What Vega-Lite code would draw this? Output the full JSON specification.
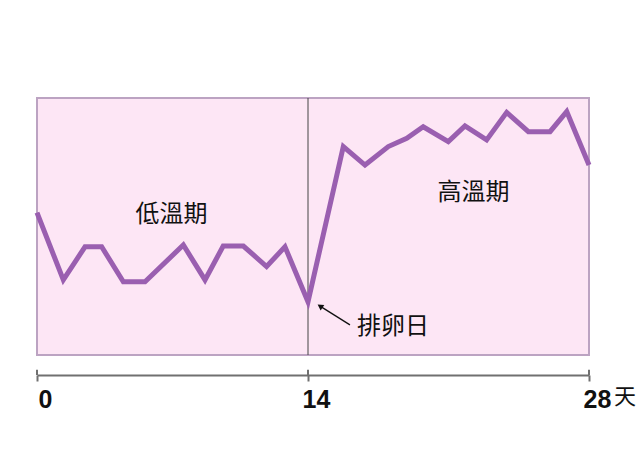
{
  "$schema": "https://vega.github.io/schema/vega-lite/v6.json",
  "width": 552,
  "height": 277,
  "autosize": "none",
  "padding": {"left": 37, "top": 98, "right": 51, "bottom": 87},
  "background": "white",
  "config": {
    "view": {"stroke": null}
  },
  "datasets": {
    "temps": [
      {"day": 0, "temp": 36.554},
      {"day": 1.36, "temp": 36.292},
      {"day": 2.48, "temp": 36.421},
      {"day": 3.34, "temp": 36.421},
      {"day": 4.46, "temp": 36.285},
      {"day": 5.58, "temp": 36.285},
      {"day": 7.56, "temp": 36.428},
      {"day": 8.68, "temp": 36.292},
      {"day": 9.62, "temp": 36.424},
      {"day": 10.66, "temp": 36.424},
      {"day": 11.86, "temp": 36.344},
      {"day": 12.81, "temp": 36.421},
      {"day": 14.0, "temp": 36.207},
      {"day": 15.76, "temp": 36.811},
      {"day": 16.84, "temp": 36.739},
      {"day": 18.0, "temp": 36.811},
      {"day": 18.92, "temp": 36.843},
      {"day": 19.74, "temp": 36.888},
      {"day": 20.99, "temp": 36.83},
      {"day": 21.82, "temp": 36.891},
      {"day": 22.9, "temp": 36.837},
      {"day": 23.9, "temp": 36.944},
      {"day": 24.98, "temp": 36.869},
      {"day": 26.06, "temp": 36.869},
      {"day": 26.89, "temp": 36.947},
      {"day": 28.0, "temp": 36.739}
    ],
    "panel": [{"start": 0, "end": 28, "low": 36.0, "high": 37.0}],
    "ovulation": [{"day": 14, "low": 36.0, "high": 37.0}],
    "ticks": [
      {"day": 0, "low": 35.922, "high": 35.942},
      {"day": 14, "low": 35.922, "high": 35.942},
      {"day": 28, "low": 35.922, "high": 35.942}
    ],
    "arrow": [{"day": 16.09, "temp": 36.117, "day2": 14.6, "temp2": 36.19}],
    "phases": [
      {"day": 6.95, "temp": 36.545, "label": "低溫期"},
      {"day": 22.24, "temp": 36.629, "label": "高溫期"},
      {"day": 18.24, "temp": 36.11, "label": "排卵日"}
    ],
    "unit": [{"day": 28, "temp": 35.837, "label": "天"}]
  },
  "encoding": {
    "x": {
      "field": "day",
      "type": "quantitative",
      "scale": {"domain": [0, 14, 28], "range": [0, 271, 552], "nice": false, "zero": false},
      "axis": {
        "title": null,
        "grid": false,
        "values": [0, 14, 28],
        "domainColor": "#707070",
        "domainWidth": 2,
        "tickColor": "#707070",
        "tickWidth": 2,
        "tickSize": 6,
        "labelFont": "Liberation Sans",
        "labelFontSize": 25,
        "labelFontWeight": "bold",
        "labelColor": "#111111",
        "labelPadding": 6,
        "labelOffset": 8,
        "labelFlush": false
      }
    }
  },
  "layer": [
    {
      "data": {"name": "panel"},
      "mark": {"type": "rect", "fill": "#fde6f5", "stroke": "#bca3c2", "strokeWidth": 2},
      "encoding": {
        "x": {"field": "start", "type": "quantitative"},
        "x2": {"field": "end"},
        "y": {"field": "low", "type": "quantitative", "scale": {"domain": [35.922, 37.0], "nice": false, "zero": false}, "axis": null},
        "y2": {"field": "high"}
      }
    },
    {
      "data": {"name": "ovulation"},
      "mark": {"type": "rule", "color": "#444444", "strokeWidth": 1},
      "encoding": {
        "y": {"field": "low", "type": "quantitative"},
        "y2": {"field": "high"}
      }
    },
    {
      "data": {"name": "ticks"},
      "mark": {"type": "rule", "color": "#707070", "strokeWidth": 2},
      "encoding": {
        "y": {"field": "low", "type": "quantitative"},
        "y2": {"field": "high"}
      }
    },
    {
      "data": {"name": "temps"},
      "mark": {"type": "line", "color": "#9a5fb0", "strokeWidth": 5, "strokeJoin": "miter"},
      "encoding": {
        "y": {"field": "temp", "type": "quantitative"}
      }
    },
    {
      "data": {"name": "arrow"},
      "mark": {"type": "rule", "color": "#111111", "strokeWidth": 1.3},
      "encoding": {
        "y": {"field": "temp", "type": "quantitative"},
        "x2": {"field": "day2"},
        "y2": {"field": "temp2"}
      }
    },
    {
      "data": {"name": "arrow"},
      "mark": {"type": "point", "shape": "triangle-up", "filled": true, "color": "#111111", "size": 45, "angle": 303, "opacity": 1},
      "encoding": {
        "x": {"field": "day2", "type": "quantitative"},
        "y": {"field": "temp2", "type": "quantitative"}
      }
    },
    {
      "data": {"name": "phases"},
      "mark": {"type": "text", "font": "Noto Sans CJK TC", "fontSize": 24, "color": "#111111", "align": "center", "baseline": "middle"},
      "encoding": {
        "y": {"field": "temp", "type": "quantitative"},
        "text": {"field": "label"}
      }
    },
    {
      "data": {"name": "unit"},
      "mark": {"type": "text", "font": "Noto Sans CJK TC", "fontSize": 22, "color": "#111111", "align": "left", "baseline": "middle", "dx": 25},
      "encoding": {
        "y": {"field": "temp", "type": "quantitative"},
        "text": {"field": "label"}
      }
    }
  ]
}
